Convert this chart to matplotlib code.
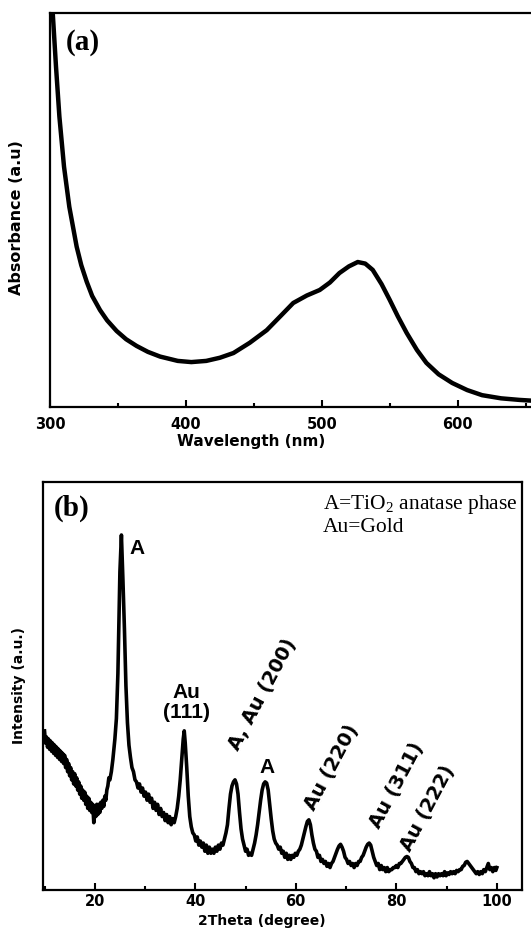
# UV-vis (a) and XRD (b) of Au/TiO2
import matplotlib.pyplot as plt
from matplotlib.ticker import MultipleLocator

plt.rcParams["mathtext.fontset"] = "stix"

# (a) absorbance spectrum
wavelength = [300, 302, 304.4, 306.9, 310.3, 314.2, 319.6, 323, 327, 331, 336.8, 342,
              349, 356, 363.7, 372, 381, 394, 404, 415, 425, 435, 447, 459.5, 470,
              479, 489, 498.5, 506, 513, 520, 526.5, 532, 537.5, 544, 550, 556,
              562.5, 570, 577, 586, 596, 607, 618, 632, 645.5, 655]
absorbance = [1.08, 1.0, 0.864, 0.737, 0.61, 0.508, 0.407, 0.36, 0.318, 0.282, 0.246,
              0.22, 0.193, 0.172, 0.155, 0.14, 0.128, 0.117, 0.114, 0.117, 0.125,
              0.137, 0.163, 0.195, 0.232, 0.264, 0.283, 0.297, 0.316, 0.34, 0.357,
              0.368, 0.364, 0.348, 0.312, 0.272, 0.23, 0.188, 0.145, 0.112, 0.083,
              0.061, 0.043, 0.03, 0.022, 0.018, 0.016]

# (b) XRD pattern (по участкам)
two_theta = [
    10.0, 10.2, 10.4, 10.6, 10.8, 11.0, 11.2, 11.4, 11.6, 11.8,
    12.0, 12.2, 12.4, 12.6, 12.8, 13.0, 13.2, 13.4, 13.6, 13.8,
    14.0, 14.2, 14.4, 14.6, 14.8, 15.0, 15.2, 15.4, 15.6, 15.8,
    16.0, 16.2, 16.4, 16.6, 16.8, 17.0, 17.2, 17.4, 17.6, 17.8,
    18.0, 18.2, 18.4, 18.6, 18.8, 19.0, 19.2, 19.4, 19.6, 19.8,
    20.0, 20.2, 20.4, 20.6, 20.8, 21.0, 21.2, 21.4, 21.6, 21.8,
    22.0, 22.2, 22.4, 22.6, 22.8,
    23.0, 23.3, 23.6, 24.0, 24.3, 24.6, 24.8, 25.0, 25.3, 25.6, 25.9, 26.2, 26.5, 26.8,
    27.1, 27.4, 27.7, 28.0, 28.3, 28.6, 28.9, 29.2, 29.5, 29.8, 30.1, 30.4, 30.7,
    31.0, 31.3, 31.6, 31.9, 32.2, 32.5, 32.8, 33.1, 33.4, 33.7, 34.0, 34.3, 34.6,
    34.9, 35.2, 35.5, 35.8, 36.1, 36.4, 36.7,
    37.0, 37.3, 37.6, 37.8, 38.0, 38.3, 38.6, 38.9, 39.2,
    39.5, 39.8, 40.1, 40.4, 40.7, 41.0, 41.3, 41.6, 41.9, 42.2, 42.5, 42.8, 43.1,
    43.4, 43.7, 44.0, 44.3, 44.6, 44.9, 45.2, 45.5, 45.8,
    46.1, 46.4, 46.7, 47.0, 47.3, 47.6, 47.9, 48.2, 48.5, 48.8, 49.1, 49.4,
    49.7, 50.0, 50.3, 50.6, 50.9, 51.2, 51.5,
    51.8, 52.1, 52.4, 52.7, 53.0, 53.3, 53.6, 53.9, 54.2, 54.5, 54.8, 55.1, 55.4, 55.7,
    56.0, 56.3, 56.6, 56.9, 57.2, 57.5, 57.8, 58.1, 58.4, 58.7, 59.0, 59.3, 59.6,
    59.9, 60.2, 60.5, 60.8,
    61.1, 61.4, 61.7, 62.0, 62.3, 62.6, 62.9, 63.2, 63.5, 63.8, 64.1,
    64.4, 64.7, 65.0, 65.3, 65.6, 65.9, 66.2, 66.5, 66.8, 67.1, 67.4,
    67.7, 68.0, 68.3, 68.6, 68.9, 69.2, 69.5, 69.8, 70.1,
    70.4, 70.7, 71.0, 71.3, 71.6, 71.9, 72.2, 72.5, 72.8, 73.1,
    73.4, 73.7, 74.0, 74.3, 74.6, 74.9, 75.2, 75.5, 75.8,
    76.1, 76.4, 76.7, 77.0, 77.3, 77.6, 77.9, 78.2, 78.5, 78.8, 79.1, 79.4, 79.7,
    80.0, 80.3, 80.6, 80.9,
    81.2, 81.5, 81.8, 82.1, 82.4, 82.7, 83.0, 83.3,
    83.6, 83.9, 84.2, 84.5, 84.8, 85.1, 85.4, 85.7, 86.0, 86.3,
    86.6, 86.9, 87.2, 87.5, 87.8, 88.1, 88.4, 88.7, 89.0, 89.3,
    89.6, 89.9, 90.2, 90.5, 90.8, 91.1, 91.4, 91.7, 92.0, 92.3,
    92.6, 92.9,
    93.2, 93.5, 93.8, 94.1, 94.4, 94.7, 95.0, 95.3, 95.6, 95.9, 96.2, 96.5,
    96.8, 97.1, 97.4, 97.7, 98.0, 98.3, 98.6, 98.9, 99.2, 99.5, 99.8, 100.0]
intensity = [
    .39, .36, .375, .35, .37, .345, .365, .34, .36, .335,
    .355, .33, .35, .325, .345, .32, .34, .315, .335, .31,
    .33, .30, .32, .29, .31, .28, .30, .27, .29, .26,
    .285, .255, .275, .245, .265, .235, .255, .225, .245, .22,
    .24, .21, .23, .20, .225, .195, .215, .19, .21, .165,
    .205, .18, .21, .185, .21, .19, .215, .20, .22, .205,
    .23, .22, .245, .255, .275,
    .27, .29, .32, .37, .42, .53, .66, .78, .87, .76, .64, .50, .41, .355,
    .325, .30, .29, .27, .265, .25, .26, .24, .25, .23, .24, .22, .235,
    .215, .225, .20, .215, .195, .21, .185, .20, .18, .19, .17, .185, .165,
    .18, .16, .175, .165, .18, .20, .23,
    .27, .32, .37, .39, .36, .30, .23, .18, .155,
    .14, .135, .12, .13, .11, .12, .105, .115, .095, .11, .09, .105, .09,
    .10, .09, .105, .095, .11, .10, .115, .11, .125,
    .14, .16, .20, .235, .255, .265, .27, .26, .235, .19, .15, .125,
    .11, .095, .10, .085, .09, .085, .10,
    .115, .135, .16, .19, .22, .245, .26, .265, .262, .245, .21, .175, .145, .125,
    .115, .11, .10, .105, .09, .095, .08, .09, .075, .085, .075, .085, .08,
    .09, .085, .095, .10,
    .11, .125, .14, .155, .168, .172, .16, .135, .115, .10, .095,
    .08, .085, .07, .075, .065, .07, .058, .065, .055, .065, .07,
    .08, .09, .10, .108, .112, .105, .095, .08, .075,
    .065, .07, .06, .065, .055, .065, .06, .07, .07, .08,
    .085, .095, .105, .112, .115, .11, .095, .08, .07,
    .06, .065, .05, .06, .05, .055, .045, .055, .045, .05, .05, .055, .055,
    .06, .055, .065, .065,
    .07, .075, .08, .082, .08, .07, .065, .055,
    .055, .045, .05, .04, .045, .04, .045, .035, .04, .035,
    .045, .035, .04, .03, .04, .032, .04, .035, .04, .035,
    .045, .035, .042, .038, .045, .04, .045, .04, .048, .045,
    .05, .05,
    .058, .06, .068, .07, .065, .06, .055, .05, .045, .04, .045, .038,
    .045, .04, .05, .045, .055, .065, .05, .055, .045, .055, .048, .055]
assert len(two_theta) == len(intensity)

# подписи пиков: текст, x, y, поворот
peak_labels = ["A", "Au\n(111)", "A, Au (200)", "A", "Au (220)", "Au (311)", "Au (222)"]
peak_x = [28.4, 38.2, 53.4, 54.2, 67.2, 80.1, 86.3]
peak_y = [0.838, 0.46, 0.478, 0.30, 0.30, 0.257, 0.20]
peak_rot = [0, 0, 62, 0, 62, 62, 62]

sans = "DejaVu Sans"
sans2 = "Liberation Sans"
serif = "Liberation Serif"

fig = plt.figure(figsize=(5.31, 9.43), dpi=100)

# ---- (a)
ax1 = fig.add_axes([0.0942, 0.5684, 0.9058, 0.4178])
ax1.plot(wavelength, absorbance, color="black", linewidth=3.2)
ax1.set_xlim(300, 654)
ax1.set_ylim(0, 1)
ax1.spines["right"].set_visible(False)
ax1.xaxis.set_major_locator(MultipleLocator(100))
ax1.xaxis.set_minor_locator(MultipleLocator(50))
ax1.set_yticks([])
ax1.tick_params(axis="x", which="major", direction="in", length=5, width=1.5, pad=7)
ax1.tick_params(axis="x", which="minor", direction="in", length=3, width=1.5)
ax1.set_xlabel("Wavelength (nm)", fontsize=11, fontweight="bold", family=sans)
ax1.xaxis.set_label_coords(0.418, -0.068)
ax1.set_ylabel("Absorbance (a.u)", fontsize=11.5, fontweight="bold", family=sans)
ax1.yaxis.set_label_coords(-0.054, 0.482)
ax1.text(0.032, 0.925, "(a)", transform=ax1.transAxes, fontsize=21,
         fontweight="bold", family=serif, va="center")

# ---- (b)
ax2 = fig.add_axes([0.081, 0.0562, 0.902, 0.4327])
ax2.plot(two_theta, intensity, color="black", linewidth=2.6)
ax2.set_xlim(9.7, 105)
ax2.set_ylim(0, 1)
ax2.xaxis.set_major_locator(MultipleLocator(20))
ax2.xaxis.set_minor_locator(MultipleLocator(10))
ax2.set_yticks([])
ax2.tick_params(axis="x", which="major", direction="in", length=5, width=1.5, pad=3)
ax2.tick_params(axis="x", which="minor", direction="in", length=3, width=1.5)
ax2.set_xlabel("2Theta (degree)", fontsize=10, fontweight="bold", family=sans)
ax2.xaxis.set_label_coords(0.457, -0.058)
ax2.set_ylabel("Intensity (a.u.)", fontsize=10, fontweight="bold", family=sans)
ax2.yaxis.set_label_coords(-0.036, 0.5)
ax2.text(0.022, 0.935, "(b)", transform=ax2.transAxes, fontsize=21,
         fontweight="bold", family=serif, va="center")
ax2.text(0.585, 0.972, "A=TiO$\\mathregular{_2}$ anatase phase\nAu=Gold",
         transform=ax2.transAxes, fontsize=15.5, family=serif, va="top",
         linespacing=1.15)

for t, x, y, r in zip(peak_labels, peak_x, peak_y, peak_rot):
    # горизонтальные подписи уже, повёрнутые шире
    fam, fs = (sans2, 15) if r == 0 else (sans, 14)
    ax2.text(x, y, t, fontsize=fs, fontweight="bold", family=fam, rotation=r,
             ha="center", va="center", linespacing=1.05)

for ax in (ax1, ax2):
    for s in ax.spines.values():
        s.set_linewidth(1.6)
    for lab in ax.get_xticklabels():
        lab.set_fontweight("bold")
        lab.set_fontfamily(sans)
        lab.set_fontsize(10.5)

fig.savefig("out.png", dpi=100)
